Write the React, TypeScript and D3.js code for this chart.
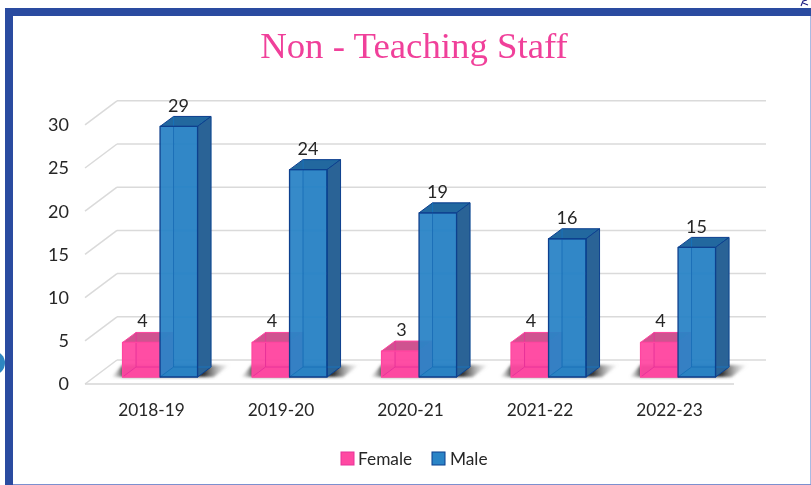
import React from "react";
import * as d3 from "d3";

const categories = ["2018-19", "2019-20", "2020-21", "2021-22", "2022-23"];
const femaleValues = [4, 4, 3, 4, 4];
const maleValues = [29, 24, 19, 16, 15];
const yTicks = [0, 5, 10, 15, 20, 25, 30];
const titleText = "Non - Teaching Staff";

const W = 811, H = 485;
const unit = 8.64;
const frontY = d3.scaleLinear().domain([0, 30]).range([384, 384 - 30 * unit]);
const backY = d3.scaleLinear().domain([0, 30]).range([360, 360 - 30 * unit]);
const barY = d3.scaleLinear().domain([0, 30]).range([377, 377 - 30 * unit]);
const xBand = d3.scaleBand().domain(categories).range([86.3, 733.8]).paddingInner(0).paddingOuter(0);
const barW = 37.5, dx = 13.5, dy = 10;
const pts = (a: number[][]) => a.map((p) => p.join(",")).join(" ");
const font = "Lato, 'Open Sans', sans-serif";
const ink = "#262626";

function Bar({ x, v, front, side, top, edge, inner, op }: any) {
  const y1 = barY(v), y0 = barY(0);
  return (
    <g strokeLinejoin="round">
      <polygon points={pts([[x, y0], [x + barW, y0], [x + barW + dx, y0 - dy], [x + dx, y0 - dy]])} fill={side} opacity={0.9} />
      <rect x={x + dx} y={y1 - dy} width={barW} height={y0 - y1} fill={front} opacity={0.45} />
      <rect x={x} y={y1} width={barW} height={y0 - y1} fill={front} opacity={op} />
      <polygon points={pts([[x, y1], [x + barW, y1], [x + barW + dx, y1 - dy], [x + dx, y1 - dy]])} fill={top} stroke={edge} strokeWidth={1} />
      <polygon points={pts([[x + barW, y1], [x + barW + dx, y1 - dy], [x + barW + dx, y0 - dy], [x + barW, y0]])} fill={side} stroke={edge} strokeWidth={1} />
      <line x1={x + dx} x2={x + dx} y1={y1 - dy} y2={y0 - dy} stroke={inner} strokeWidth={1} />
      <line x1={x} x2={x + dx} y1={y0} y2={y0 - dy} stroke={inner} strokeWidth={1} />
      <line x1={x + dx} x2={x + dx + barW} y1={y0 - dy} y2={y0 - dy} stroke={inner} strokeWidth={1} />
      <rect x={x} y={y1} width={barW} height={y0 - y1} fill="none" stroke={edge} strokeWidth={1.3} />
    </g>
  );
}

export default function App() {
  const bw = xBand.bandwidth();
  return (
    <svg width={W} height={H} viewBox={`0 0 ${W} ${H}`} style={{ position: "fixed", left: 0, top: 0, background: "#fff" }}>
      <defs>
        <filter id="soft" x="-5%" y="-5%" width="110%" height="110%"><feGaussianBlur stdDeviation="0.55" /></filter>
        <filter id="shade" x="-20%" y="-50%" width="140%" height="200%"><feGaussianBlur stdDeviation="1.5" /></filter>
        <linearGradient id="shadowGrad" x1="0" x2="1" y1="0" y2="0">
          <stop offset="0" stopColor="#999" stopOpacity="0.05" />
          <stop offset="0.1" stopColor="#333" stopOpacity="0.9" />
          <stop offset="0.78" stopColor="#222" stopOpacity="0.95" />
          <stop offset="1" stopColor="#aaa" stopOpacity="0.05" />
        </linearGradient>
      </defs>
      <g filter="url(#soft)">
        <circle cx={-7} cy={363} r={12} fill="#2E86C1" />
        <path d="M801,6 L803,1 L807,0 M803,3 L808,5" fill="none" stroke="#1a1a80" strokeWidth={1.1} />
        <rect x={5} y={8} width={806} height={8} fill="#2A4BA0" />
        <rect x={5} y={8} width={8} height={477} fill="#2A4BA0" />
        <rect x={810} y={16} width={1} height={469} fill="#A9BBE3" />
        <rect x={13} y={484} width={798} height={1} fill="#7C90CF" />

        <text x={414} y={58} textAnchor="middle" fontFamily="'Liberation Serif', serif" fontSize={36.8} fill="#F0409A">{titleText}</text>

        {yTicks.map((t) => (
          <g key={t}>
            <line x1={117} x2={766} y1={backY(t)} y2={backY(t)} stroke="#DADADA" strokeWidth={1.5} />
            <line x1={85} x2={117} y1={frontY(t)} y2={backY(t)} stroke="#DADADA" strokeWidth={1.5} />
            <text x={69} y={frontY(t)} dy="0.36em" textAnchor="end" fontFamily={font} fontSize={18} fill={ink}>{t}</text>
          </g>
        ))}
        <line x1={85} x2={734} y1={frontY(0)} y2={frontY(0)} stroke="#D6D6D6" strokeWidth={1.5} />

        {categories.map((c) => {
          const mx = (xBand(c) as number) + bw / 2 + 9;
          return (
            <polygon key={c} filter="url(#shade)" fill="url(#shadowGrad)"
              points={pts([[mx - barW - 11, 377], [mx + barW + 16, 377], [mx + barW + 32, 365], [mx - barW, 365]])} />
          );
        })}

        {categories.map((c, i) => {
          const mx = (xBand(c) as number) + bw / 2 + 9;
          const fx = mx - barW;
          return (
            <g key={c}>
              <Bar x={fx} v={femaleValues[i]} front="#FF49A2" side="#E8439A" top="#CF5390" edge="#FF45A0" inner="#E8339A" op={0.95} />
              <Bar x={mx} v={maleValues[i]} front="#2A84C6" side="#2A6496" top="#22689F" edge="#0C3F8E" inner="#1A70B8" op={0.95} />
              <text x={fx + 20} y={barY(femaleValues[i]) - 22} dy="0.36em" textAnchor="middle" fontFamily={font} fontSize={18} fill={ink}>{femaleValues[i]}</text>
              <text x={mx + 18.5} y={barY(maleValues[i]) - 21} dy="0.36em" textAnchor="middle" fontFamily={font} fontSize={18} fill={ink}>{maleValues[i]}</text>
              <text x={fx + 29} y={410} dy="0.36em" textAnchor="middle" fontFamily={font} fontSize={17.3} fill={ink}>{c}</text>
            </g>
          );
        })}

        <rect x={341} y={452} width={13} height={13} fill="#FF49A2" stroke="#E8339A" />
        <text x={358} y={459} dy="0.36em" fontFamily={font} fontSize={17.3} fill={ink}>Female</text>
        <rect x={432} y={452} width={13} height={13} fill="#2A84C6" stroke="#0C3F8E" />
        <text x={450} y={459} dy="0.36em" fontFamily={font} fontSize={17.3} fill={ink}>Male</text>
      </g>
    </svg>
  );
}
